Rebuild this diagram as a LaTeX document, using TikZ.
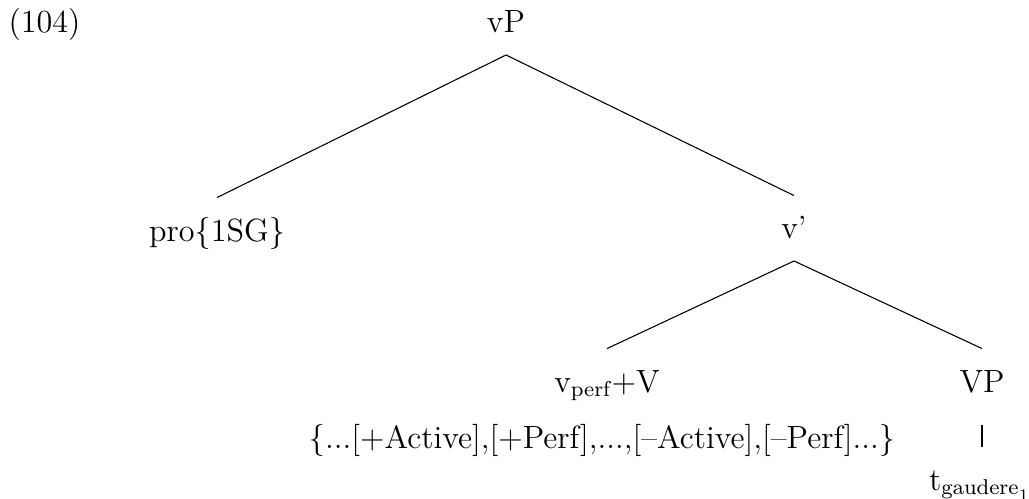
\documentclass[12pt,tikz,border=0pt]{standalone}
\tikzset{
    tnode/.style={inner sep=0pt, text height=16pt, text depth=8pt, anchor=base},
}
\begin{document}
\begin{tikzpicture}[x=0.373pt, y=-0.373pt]
        \useasboundingbox (0,0) rectangle (1029,499);
        \node[anchor=base west, inner sep=0pt] (num) at (8,33) {(104)};
        % top level
        \node[tnode] (vP) at (506,33) {vP};
        \node[tnode] (pro) at (217,241) {pro\{1SG\}};
        \node[tnode] (vbar) at (794,239) {v'};
        \draw (vP.south) -- (pro.north);
        \draw (vP.south) -- (vbar.north);
        % lower level
        \node[tnode] (vperf) at (607,392) {v\textsubscript{perf}+V};
        \node[anchor=base, inner sep=0pt] (feats) at (602,448) {\{...[+Active],[+Perf],...,[--Active],[--Perf]...\}};
        \node[tnode, text depth=12pt] (VP) at (982,392) {VP};
        \draw (vbar.south) -- (vperf.north);
        \draw (vbar.south) -- (VP.north);
        \node[tnode] (trace) at (980,490) {$\mathrm{t}_{\mathrm{gaudere}_1}$};
        \draw (VP.south) -- (VP.south |- trace.north);
\end{tikzpicture}
\end{document}
